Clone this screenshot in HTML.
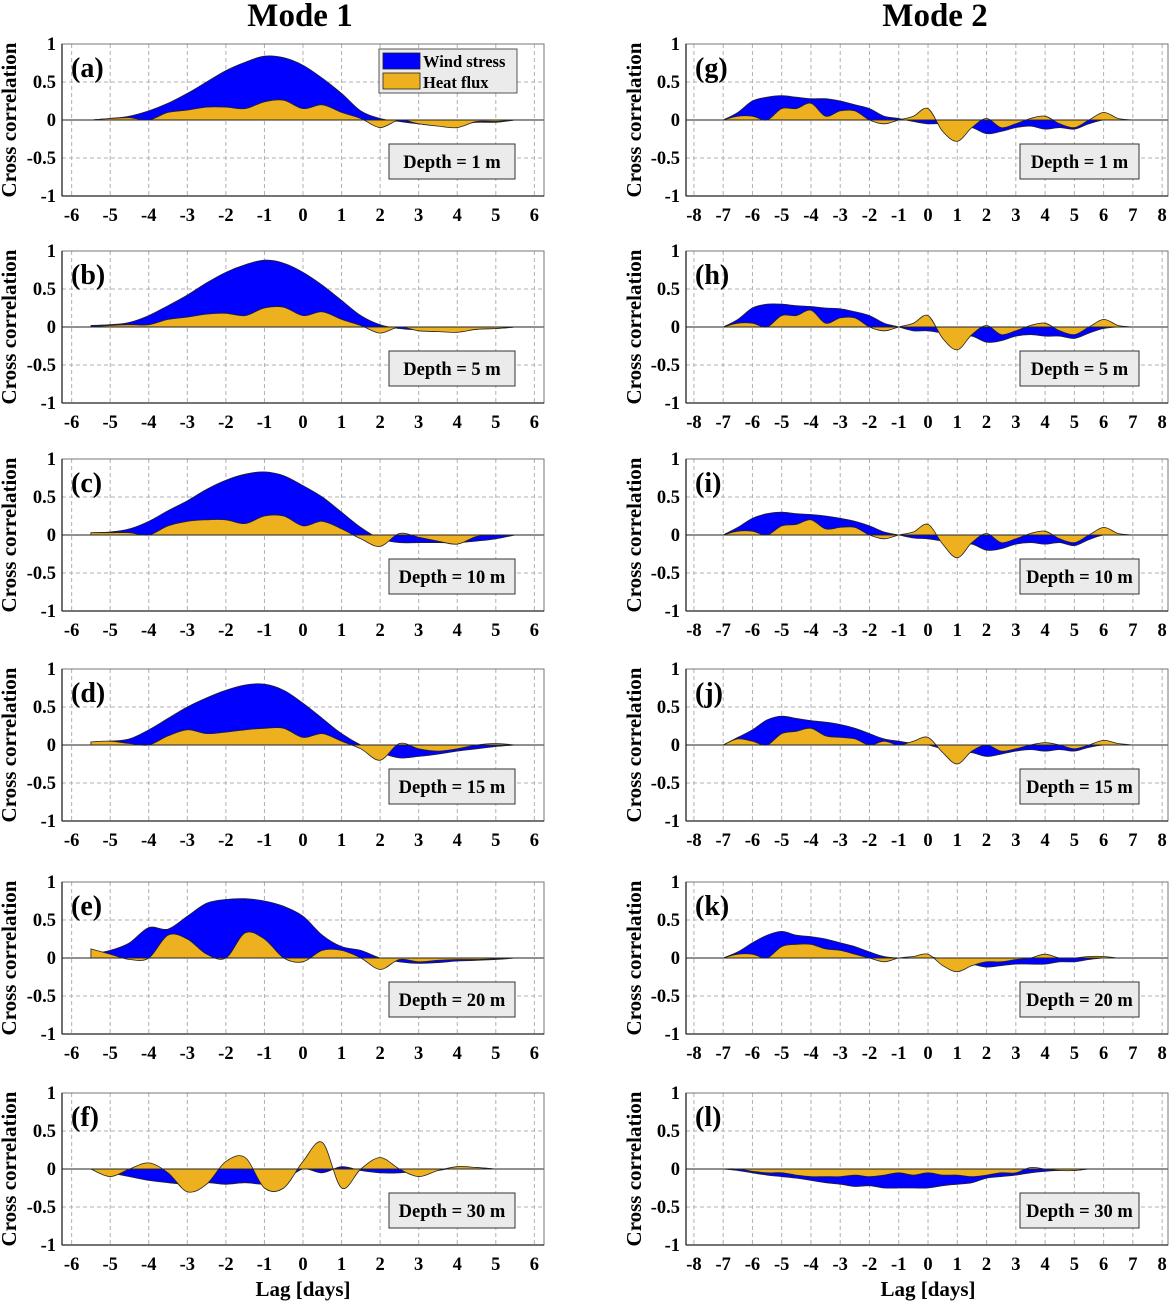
<!DOCTYPE html>
<html><head><meta charset="utf-8"><style>
body{margin:0;background:#fff;}
svg{display:block;font-family:"Liberation Serif",serif;}
</style></head><body>
<svg id="chart" width="1172" height="1302" viewBox="0 0 1172 1302" xmlns="http://www.w3.org/2000/svg">
<text x="300" y="26" font-size="33" font-weight="bold" text-anchor="middle">Mode 1</text>
<text x="935" y="26" font-size="33" font-weight="bold" text-anchor="middle">Mode 2</text>
</svg>
<script>
const lagsL=[-5.5,-5,-4.5,-4,-3.5,-3,-2.5,-2,-1.5,-1,-0.5,0,0.5,1,1.5,2,2.5,3,3.5,4,4.5,5,5.5];
const lagsR=[-7,-6.5,-6,-5.5,-5,-4.5,-4,-3.5,-3,-2.5,-2,-1.5,-1,-0.5,0,0.5,1,1.5,2,2.5,3,3.5,4,4.5,5,5.5,6,6.5,7];
const xTicksL=[-6,-5,-4,-3,-2,-1,0,1,2,3,4,5,6];
const xTicksR=[-8,-7,-6,-5,-4,-3,-2,-1,0,1,2,3,4,5,6,7,8];
const yTicks=[1,0.5,0,-0.5,-1];
const yTickLabels=["1","0.5","0","-0.5","-1"];
const panelLabels=["(a)","(b)","(c)","(d)","(e)","(f)","(g)","(h)","(i)","(j)","(k)","(l)"];
const depths=["1","5","10","15","20","30"];
const windA=[0,0.02,0.05,0.12,0.22,0.35,0.5,0.65,0.76,0.84,0.82,0.72,0.55,0.35,0.12,0.02,-0.02,-0.05,-0.07,-0.06,-0.03,-0.03,0];
const heatA=[0,0.02,0.03,0.0,0.1,0.13,0.17,0.17,0.15,0.24,0.26,0.15,0.2,0.1,0.02,-0.1,0.0,-0.05,-0.08,-0.1,-0.02,-0.02,0];
const windB=[0.02,0.03,0.06,0.15,0.28,0.42,0.58,0.72,0.82,0.88,0.84,0.72,0.55,0.35,0.15,0.03,-0.02,-0.04,-0.06,-0.05,-0.03,-0.02,0];
const heatB=[0,0.02,0.03,0.03,0.1,0.13,0.17,0.18,0.15,0.25,0.26,0.15,0.2,0.1,0.02,-0.08,0,-0.05,-0.06,-0.07,-0.03,-0.02,0];
const windC=[0.03,0.04,0.08,0.18,0.32,0.45,0.6,0.72,0.8,0.83,0.78,0.65,0.5,0.3,0.1,-0.05,-0.1,-0.1,-0.1,-0.1,-0.08,-0.05,0];
const heatC=[0.03,0.03,0.03,0.0,0.12,0.18,0.2,0.2,0.15,0.25,0.25,0.12,0.18,0.08,-0.05,-0.15,0.02,-0.03,-0.08,-0.12,-0.02,0.0,0];
const windD=[0.04,0.05,0.08,0.2,0.35,0.5,0.62,0.72,0.79,0.8,0.72,0.55,0.35,0.15,0.0,-0.1,-0.17,-0.15,-0.12,-0.08,-0.05,-0.02,0];
const heatD=[0.04,0.05,0.02,0.0,0.12,0.2,0.15,0.17,0.2,0.22,0.22,0.1,0.15,0.05,-0.05,-0.2,0.02,-0.05,-0.08,-0.05,0.0,0.02,0];
const windE=[0.05,0.1,0.2,0.4,0.38,0.55,0.72,0.77,0.78,0.75,0.68,0.55,0.3,0.15,0.1,0.0,-0.05,-0.07,-0.06,-0.04,-0.03,-0.02,0];
const heatE=[0.12,0.05,-0.02,0.0,0.3,0.25,0.05,0.0,0.33,0.25,0.0,-0.05,0.1,0.1,0.0,-0.15,-0.02,-0.05,-0.03,-0.02,-0.02,-0.01,0];
const windF=[0,-0.05,-0.1,-0.15,-0.18,-0.2,-0.18,-0.2,-0.18,-0.2,-0.15,0.0,-0.05,0.03,-0.02,-0.05,-0.05,-0.03,-0.02,0.02,0.02,0,0];
const heatF=[0,-0.1,0.0,0.08,-0.05,-0.3,-0.2,0.1,0.15,-0.25,-0.25,0.1,0.35,-0.25,0.0,0.15,0.0,-0.1,-0.02,0.03,0.02,0,0];
const windG=[0,0.1,0.25,0.3,0.32,0.3,0.28,0.28,0.25,0.2,0.15,0.05,0.02,-0.02,-0.05,-0.05,-0.1,-0.1,-0.18,-0.15,-0.1,-0.08,-0.12,-0.1,-0.12,-0.05,0,0,0];
const heatG=[0,0.05,0.05,0.0,0.15,0.15,0.22,0.05,0.12,0.12,0.0,-0.05,0.0,0.05,0.15,-0.15,-0.28,-0.1,0.02,-0.1,-0.05,0.02,0.05,-0.05,-0.1,0.0,0.1,0.02,0];
const windH=[0,0.1,0.25,0.3,0.3,0.28,0.27,0.25,0.24,0.2,0.15,0.05,0.0,-0.05,-0.05,-0.08,-0.12,-0.12,-0.2,-0.18,-0.12,-0.1,-0.12,-0.12,-0.15,-0.08,-0.02,0,0];
const heatH=[0,0.05,0.05,0.0,0.15,0.15,0.22,0.05,0.12,0.12,0.0,-0.05,0.0,0.05,0.15,-0.15,-0.3,-0.1,0.02,-0.1,-0.05,0.02,0.05,-0.05,-0.1,0.0,0.1,0.02,0];
const windI=[0,0.1,0.22,0.28,0.3,0.28,0.27,0.25,0.22,0.18,0.12,0.04,0.0,-0.04,-0.05,-0.08,-0.12,-0.12,-0.2,-0.18,-0.12,-0.1,-0.12,-0.1,-0.14,-0.06,0,0,0];
const heatI=[0,0.05,0.05,0.0,0.12,0.14,0.2,0.08,0.1,0.1,0.0,-0.05,0.0,0.04,0.14,-0.12,-0.3,-0.1,0.02,-0.1,-0.05,0.02,0.05,-0.05,-0.1,0.0,0.1,0.02,0];
const windJ=[0,0.1,0.2,0.33,0.38,0.35,0.32,0.3,0.27,0.22,0.15,0.08,0.05,0.02,0.0,-0.05,-0.08,-0.1,-0.15,-0.12,-0.08,-0.06,-0.08,-0.06,-0.08,-0.03,0,0,0];
const heatJ=[0,0.08,0.05,0.0,0.15,0.18,0.22,0.12,0.1,0.08,0.0,0.05,0.0,0.05,0.1,-0.1,-0.25,-0.08,0.0,-0.08,-0.05,0.0,0.03,0.0,-0.05,0.0,0.06,0.02,0];
const windK=[0,0.08,0.2,0.3,0.35,0.3,0.28,0.25,0.2,0.15,0.08,0.02,0.0,0.0,0.02,-0.02,-0.05,-0.08,-0.12,-0.1,-0.08,-0.08,-0.08,-0.05,-0.05,-0.02,0,0,0];
const heatK=[0,0.05,0.05,0.0,0.15,0.18,0.18,0.12,0.1,0.05,0.0,-0.05,0.0,0.02,0.05,-0.1,-0.18,-0.1,-0.05,-0.05,-0.02,0.0,0.05,0.0,0.0,0.02,0.02,0,0];
const windL=[0,-0.02,-0.05,-0.08,-0.1,-0.12,-0.15,-0.18,-0.2,-0.23,-0.22,-0.25,-0.25,-0.25,-0.25,-0.22,-0.2,-0.18,-0.12,-0.1,-0.08,-0.05,-0.03,-0.02,-0.02,0,0,0,0];
const heatL=[0,0,-0.03,-0.05,-0.05,-0.08,-0.1,-0.1,-0.1,-0.08,-0.1,-0.08,-0.05,-0.08,-0.05,-0.08,-0.08,-0.1,-0.08,-0.05,-0.05,0.02,0.0,-0.02,-0.02,0.0,0,0,0];

const windL_all=[windA,windB,windC,windD,windE,windF];
const heatL_all=[heatA,heatB,heatC,heatD,heatE,heatF];
const windR_all=[windG,windH,windI,windJ,windK,windL];
const heatR_all=[heatG,heatH,heatI,heatJ,heatK,heatL];

const NS="http://www.w3.org/2000/svg";
const svg=document.getElementById('chart');
function mk(tag,attrs,parent){const e=document.createElementNS(NS,tag);for(const k in attrs)e.setAttribute(k,attrs[k]);(parent||svg).appendChild(e);return e;}
const rowTops=[44,251,459,669,882,1093];
const H=152;

function smoothPath(pts){
  let d="M"+pts[0][0]+","+pts[0][1];
  for(let i=0;i<pts.length-1;i++){
    const p0=pts[Math.max(0,i-1)],p1=pts[i],p2=pts[i+1],p3=pts[Math.min(pts.length-1,i+2)];
    const c1x=p1[0]+(p2[0]-p0[0])/6,c1y=p1[1]+(p2[1]-p0[1])/6;
    const c2x=p2[0]-(p3[0]-p1[0])/6,c2y=p2[1]-(p3[1]-p1[1])/6;
    d+=" C"+c1x.toFixed(1)+","+c1y.toFixed(1)+" "+c2x.toFixed(1)+","+c2y.toFixed(1)+" "+p2[0].toFixed(1)+","+p2[1].toFixed(1);
  }
  return d;
}

function panel(idx,side){
  const left=side===0?62:686, right=side===0?544:1168;
  const xmin=side===0?-6.25:-8.27, xmax=side===0?6.25:8.2;
  const top=rowTops[idx%6], bot=top+H;
  const xs=v=>left+(v-xmin)/(xmax-xmin)*(right-left);
  const ys=v=>top+(1-v)/2*H;
  const g=mk('g',{});
  
  
  mk('rect',{x:left,y:top,width:right-left,height:H,fill:'#fff',stroke:'none'},g);
  const ticks=side===0?xTicksL:xTicksR;
  ticks.forEach(t=>{
    const x=xs(t);
    const gl=mk('line',{x1:x,x2:x,y1:top,y2:bot,stroke:'#b0b0b0','stroke-dasharray':'4,3','stroke-width':1},g);
    
    
    const tl=mk('text',{x:x,y:bot+25,'font-size':18.5,'font-weight':'bold','text-anchor':'middle'},g);
    tl.textContent=String(t);
    
    
  });
  yTicks.forEach((t,i)=>{
    const y=ys(t);
    if(t!==0){const gl=mk('line',{x1:left,x2:right,y1:y,y2:y,stroke:'#b0b0b0','stroke-dasharray':'4,3','stroke-width':1},g);
    
    }
    const tl=mk('text',{x:left-6,y:y+6,'font-size':18.5,'font-weight':'bold','text-anchor':'end'},g);
    tl.textContent=yTickLabels[i];
    
    
  });
  const lags=side===0?lagsL:lagsR;
  const w=(side===0?windL_all:windR_all)[idx%6];
  const h=(side===0?heatL_all:heatR_all)[idx%6];
  const y0=ys(0);
  [[w,'#0000ff','wind-stress-area'],[h,'#edb120','heat-flux-area']].forEach(([arr,col,name])=>{
    const pts=lags.map((l,i)=>[xs(l),ys(arr[i])]);
    const d=smoothPath(pts)+" L"+xs(lags[lags.length-1])+","+y0+" L"+xs(lags[0])+","+y0+" Z";
    const p=mk('path',{d:d,fill:col,stroke:'#222','stroke-width':0.8},g);
    
    
  });
  mk('line',{x1:left,x2:right,y1:y0,y2:y0,stroke:'#222','stroke-width':1},g);
  mk('rect',{x:left,y:top,width:right-left,height:H,fill:'none',stroke:'#777','stroke-width':1},g);
  mk('line',{x1:left,x2:left,y1:top,y2:bot,stroke:'#222','stroke-width':1.3},g);
  mk('line',{x1:left,x2:right,y1:bot,y2:bot,stroke:'#222','stroke-width':1.3},g);
  const pl=mk('text',{x:left+9,y:top+33,'font-size':28,'font-weight':'bold'},g);
  pl.textContent=panelLabels[idx];
  
  
  const bx=side===0?389:1020, bw=side===0?126:119, by=top+100;
  const db=mk('g',{},g);
  
  
  mk('rect',{x:bx,y:by,width:bw,height:35,fill:'#ebebeb',stroke:'#333','stroke-width':1},db);
  const dt=mk('text',{x:bx+bw/2,y:by+24,'font-size':18.5,'font-weight':'bold','text-anchor':'middle'},db);
  dt.textContent='Depth = '+depths[idx%6]+' m';
  const yl=mk('text',{x:0,y:0,'font-size':21,'font-weight':'bold','text-anchor':'middle',transform:'translate('+(side===0?16:641)+','+(top+H/2)+') rotate(-90)'},g);
  yl.textContent='Cross correlation';
  
  
}
for(let i=0;i<6;i++){panel(i,0);panel(i+6,1);}
const lg=mk('g',{});


mk('rect',{x:379,y:49,width:138,height:44,fill:'#ebebeb',stroke:'#555','stroke-width':1},lg);
mk('rect',{x:383,y:53,width:37,height:16,fill:'#0000ff',stroke:'#222','stroke-width':0.8},lg);
mk('rect',{x:383,y:73,width:37,height:16,fill:'#edb120',stroke:'#222','stroke-width':0.8},lg);
const t1=mk('text',{x:423,y:67,'font-size':16.5,'font-weight':'bold'},lg);t1.textContent='Wind stress';


const t2=mk('text',{x:423,y:88,'font-size':16.5,'font-weight':'bold'},lg);t2.textContent='Heat flux';


const xl1=mk('text',{x:303,y:1296,'font-size':21,'font-weight':'bold','text-anchor':'middle'});xl1.textContent='Lag [days]';


const xl2=mk('text',{x:928,y:1296,'font-size':21,'font-weight':'bold','text-anchor':'middle'});xl2.textContent='Lag [days]';


</script>
</body></html>
